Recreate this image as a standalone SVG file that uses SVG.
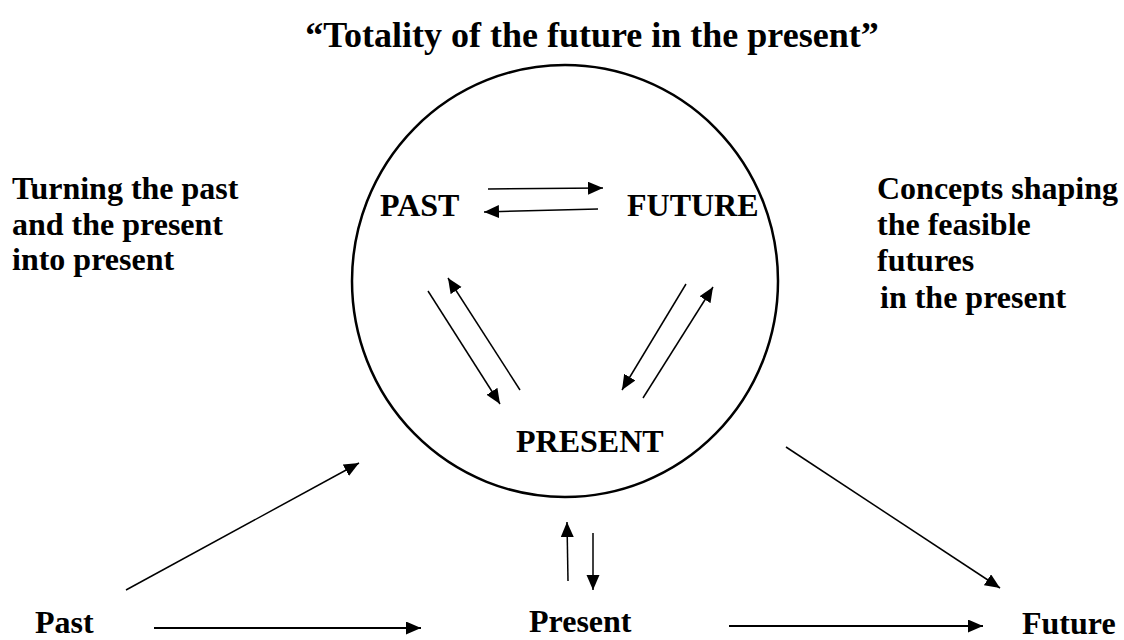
<svg xmlns="http://www.w3.org/2000/svg" width="1124" height="640" viewBox="0 0 1124 640">
<style>
text{font-family:"Liberation Serif","Times New Roman",serif;font-weight:bold;fill:#000}
.lbl{font-size:32px}
.ttl{font-size:36px}
.c{stroke:#000;stroke-width:1.5;fill:none}
.thick{stroke-width:2}
</style>
<defs>
<marker id="ah" markerUnits="userSpaceOnUse" markerWidth="16" markerHeight="14" refX="15" refY="6.5" orient="auto">
<path d="M0,0 L15,6.5 L0,13 z" fill="#000"/>
</marker>
</defs>
<rect width="1124" height="640" fill="#fff"/>
<text class="ttl" x="592" y="47" text-anchor="middle">“Totality of the future in the present”</text>
<g id="circle"><ellipse cx="565" cy="281" rx="213" ry="216" fill="none" stroke="#000" stroke-width="2.5"/></g>
<g id="node-past-in"><text class="lbl" x="380" y="216">PAST</text></g>
<g id="node-future-in"><text class="lbl" x="627" y="216">FUTURE</text></g>
<g id="node-present-in"><text class="lbl" x="516" y="452">PRESENT</text></g>
<g id="note-left"><text class="lbl" x="12" y="199">Turning the past</text><text class="lbl" x="12" y="235">and the present</text><text class="lbl" x="12" y="270">into present</text></g>
<g id="note-right"><text class="lbl" x="877" y="199">Concepts shaping</text><text class="lbl" x="877" y="235">the feasible</text><text class="lbl" x="877" y="271">futures</text><text class="lbl" x="880" y="308">in the present</text></g>
<g id="node-past"><text class="lbl" x="35" y="633">Past</text></g>
<g id="node-present"><text class="lbl" x="529" y="632">Present</text></g>
<g id="node-future"><text class="lbl" x="1022" y="634">Future</text></g>
<g id="connectors" class="c">
<line x1="488" y1="189" x2="603" y2="188" marker-end="url(#ah)"/>
<line x1="598" y1="209" x2="484" y2="212" marker-end="url(#ah)"/>
<line x1="428" y1="291" x2="500" y2="404" marker-end="url(#ah)"/>
<line x1="520" y1="390" x2="448" y2="278" marker-end="url(#ah)"/>
<line x1="686" y1="284" x2="622" y2="390" marker-end="url(#ah)"/>
<line x1="643" y1="398" x2="713" y2="287" marker-end="url(#ah)"/>
<line x1="126" y1="590" x2="359" y2="463" marker-end="url(#ah)"/>
<line class="thick" x1="154" y1="628" x2="421" y2="628" marker-end="url(#ah)"/>
<line x1="568" y1="581" x2="567" y2="522" marker-end="url(#ah)"/>
<line x1="593" y1="533" x2="593" y2="590" marker-end="url(#ah)"/>
<line x1="786" y1="447" x2="1000" y2="588" marker-end="url(#ah)"/>
<line class="thick" x1="729" y1="626" x2="983" y2="626" marker-end="url(#ah)"/>
</g>
</svg>
